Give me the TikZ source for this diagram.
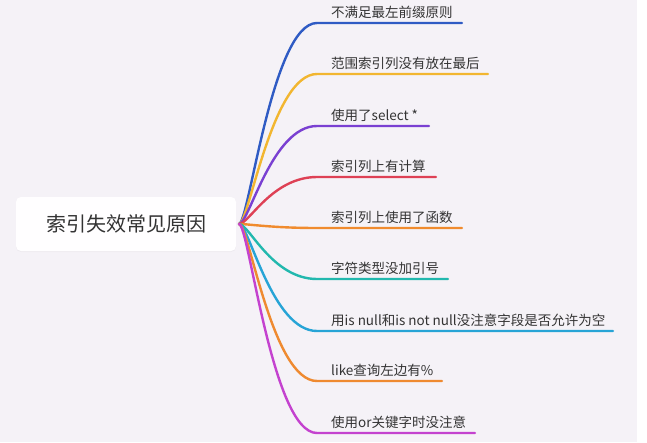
\documentclass[tikz,border=0pt]{standalone}
\usepackage{fontspec}
\setmainfont{Noto Sans CJK SC}
\usetikzlibrary{shadows}
\definecolor{bgc}{HTML}{F5F2F7}
\definecolor{txt}{HTML}{333333}
\definecolor{cA}{HTML}{2F5BC4}
\definecolor{cB}{HTML}{F2B630}
\definecolor{cC}{HTML}{7A40D2}
\definecolor{cD}{HTML}{DE4155}
\definecolor{cE}{HTML}{F08B2E}
\definecolor{cF}{HTML}{22B8AE}
\definecolor{cG}{HTML}{27A4D6}
\definecolor{cH}{HTML}{EF8A30}
\definecolor{cI}{HTML}{C442CF}
\tikzset{
  branch/.style={line width=2.4pt, line cap=round},
  leaf/.style={anchor=west, inner sep=0pt, text=txt, font=\fontsize{13.5pt}{15pt}\selectfont},
  rootbox/.style={rounded corners=5pt, fill=white!96!bgc, draw=none, minimum width=220pt, minimum height=54pt,
    text=txt, font=\fontsize{20pt}{24pt}\selectfont,
    drop shadow={shadow xshift=0pt, shadow yshift=-1pt, opacity=0.06}}
}
\begin{document}
\begin{tikzpicture}[x=1pt,y=-1pt]
\useasboundingbox (0,0) rectangle (647,442);
\fill[white] (0,0) rectangle (647,442);
\fill[bgc] (0,0) rectangle (637,442);
\node[rootbox] (root) at (126,224) {索引失效常见原因};
\coordinate (o) at (239,224);
\foreach \i/\y/\xe/\c/\t in {
  1/23/462/cA/不满足最左前缀原则,
  2/74/488/cB/范围索引列没有放在最后,
  3/126/429/cC/使用了select *,
  4/177/436/cD/索引列上有计算,
  5/228/462/cE/索引列上使用了函数,
  6/279/448/cF/字符类型没加引号,
  7/331/613/cG/用is null和is not null没注意字段是否允许为空,
  8/381/442/cH/like查询左边有\%,
  9/433/475/cI/使用or关键字时没注意}
{
  \coordinate (e\i) at (317,\y);
  \coordinate (f\i) at (\xe,\y);
  \node[leaf] (t\i) at (331,\y-11) {\t};
  \draw[branch, \c] (o) .. controls +(10,0) and +(-45,0) .. (e\i) -- (f\i);
}
\end{tikzpicture}
\end{document}
